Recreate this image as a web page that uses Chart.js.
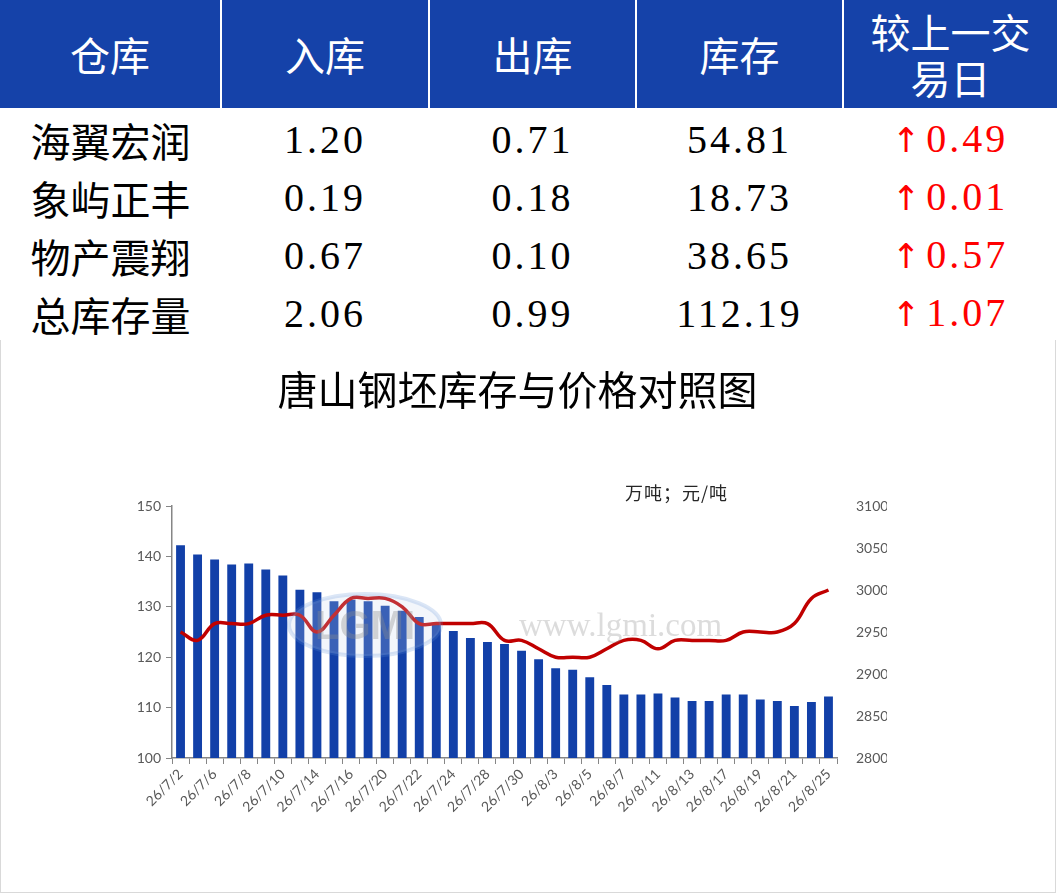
<!DOCTYPE html>
<html>
<head>
<meta charset="utf-8">
<script src="https://cdn.jsdelivr.net/npm/chart.js@4.4.1/dist/chart.umd.min.js"></script>
<style>
    body { margin: 0; background: #fff; width: 1057px; height: 895px; overflow: hidden; position: relative; }
    table { position: absolute; left: 0; top: 0; width: 1057px; border-collapse: collapse; table-layout: fixed; }
    th { background: #1542a9; color: #fff; height: 108px; font: 400 40px "Noto Sans CJK SC", sans-serif; line-height: 46px;
         border-right: 2px solid #fff; padding: 0; }
    th:last-child { border-right: none; }
    td { height: 58px; text-align: center; padding: 5px 0 0 0; box-sizing: border-box; }
    td.name { font: 400 40px "Noto Sans CJK SC", sans-serif; line-height: 50px; }
    td.num { font: 400 40px "Liberation Serif", serif; letter-spacing: 3px; line-height: 50px; }
    td.chg { color: #ff0000; }
    .arrow { font-family: "DejaVu Sans", sans-serif; font-size: 34px; margin-right: 3px; }
    #box { position: absolute; left: 0; top: 340px; width: 1054px; height: 552px; border: 1px solid #d9d9d9; border-top: none; }
    #title { position: absolute; left: 0; top: 359px; width: 1035px; text-align: center; font: 400 40px "Noto Sans CJK SC", sans-serif; color: #000; }
    #unit { position: absolute; left: 625px; top: 479px; font: 400 18px "Noto Sans CJK SC", sans-serif; color: #262626; letter-spacing: 1px; }
</style>
</head>
<body>

<table>
    <thead>
        <tr>
            <th style="width:220px">仓库</th>
            <th style="width:206px">入库</th>
            <th style="width:205px">出库</th>
            <th style="width:205px">库存</th>
            <th>较上一交<br>易日</th>
        </tr>
    </thead>
    <tbody id="tableData"></tbody>
</table>

<div id="box"><canvas id="mixChart" width="1054" height="552"></canvas></div>
<div id="title">唐山钢坯库存与价格对照图</div>
<div id="unit">万吨；元/吨</div>

<script>
// table
const warehouses = ["海翼宏润", "象屿正丰", "物产震翔", "总库存量"];
const inbound = [1.20, 0.19, 0.67, 2.06];
const outbound = [0.71, 0.18, 0.10, 0.99];
const stockNow = [54.81, 18.73, 38.65, 112.19];
const change = [0.49, 0.01, 0.57, 1.07];

// chart
const dates = [
    "26/7/2", "26/7/3", "26/7/6", "26/7/7", "26/7/8", "26/7/9", "26/7/10", "26/7/13", "26/7/14", "26/7/15",
    "26/7/16", "26/7/17", "26/7/20", "26/7/21", "26/7/22", "26/7/23", "26/7/24", "26/7/27", "26/7/28", "26/7/29",
    "26/7/30", "26/7/31", "26/8/3", "26/8/4", "26/8/5", "26/8/6", "26/8/7", "26/8/10", "26/8/11", "26/8/12",
    "26/8/13", "26/8/14", "26/8/17", "26/8/18", "26/8/19", "26/8/20", "26/8/21", "26/8/24", "26/8/25"
];
const stock = [
    142.2, 140.4, 139.4, 138.4, 138.6, 137.4, 136.2, 133.4, 132.9, 131.1,
    131.4, 131.1, 130.2, 129.2, 128.0, 126.8, 125.2, 123.8, 123.0, 122.6,
    121.3, 119.6, 117.8, 117.5, 116.0, 114.5, 112.6, 112.6, 112.8, 112.0,
    111.3, 111.3, 112.6, 112.6, 111.6, 111.3, 110.3, 111.1, 112.2
];
const price = [
    2950, 2940, 2960, 2960, 2960, 2970, 2970, 2970, 2950, 2970,
    2990, 2990, 2990, 2980, 2960, 2960, 2960, 2960, 2960, 2940,
    2940, 2930, 2920, 2920, 2920, 2930, 2940, 2940, 2930, 2940,
    2940, 2940, 2940, 2950, 2950, 2950, 2960, 2990, 3000
];
const leftTicks = [100, 150, 10];
const rightTicks = [2800, 3100, 50];

function buildTable() {
    let rows = "";
    for (let i = 0; i < warehouses.length; i++) {
        rows += `
        <tr>
            <td class="name">${warehouses[i]}</td>
            <td class="num">${inbound[i].toFixed(2)}</td>
            <td class="num">${outbound[i].toFixed(2)}</td>
            <td class="num">${stockNow[i].toFixed(2)}</td>
            <td class="num chg"><span class="arrow">↑</span>${change[i].toFixed(2)}</td>
        </tr>`;
    }
    document.getElementById("tableData").innerHTML = rows;
}

// faint site watermark over the plot
const watermark = {
    id: "watermark",
    afterDatasetsDraw(chart) {
        const ctx = chart.ctx;
        ctx.save();
        ctx.globalAlpha = 0.22;
        ctx.fillStyle = "#c9d8ee";
        ctx.strokeStyle = "#5b8fd6";
        ctx.lineWidth = 4;
        ctx.beginPath();
        ctx.ellipse(364, 285, 76, 31, 0, 0, Math.PI * 2);
        ctx.fill();
        ctx.stroke();
        ctx.globalAlpha = 0.35;
        ctx.fillStyle = "#8c8c8c";
        ctx.font = "bold 40px 'Liberation Sans'";
        ctx.textAlign = "center";
        ctx.textBaseline = "middle";
        ctx.fillText("LGMI", 364, 288);
        ctx.fillStyle = "#9a9a9a";
        ctx.font = "33px 'Liberation Serif'";
        ctx.textAlign = "left";
        ctx.fillText("www.lgmi.com", 518, 287);
        ctx.restore();
    }
};

function drawChart() {
    const tickFont = { family: "Lato", size: 14 };
    new Chart(document.getElementById("mixChart"), {
        data: {
            labels: dates,
            datasets: [{
                type: "line",
                data: price,
                yAxisID: "y1",
                borderColor: "#c00000",
                borderWidth: 3.5,
                tension: 0.4,
                pointRadius: 0,
                order: 0
            }, {
                type: "bar",
                data: stock,
                yAxisID: "y",
                backgroundColor: "#1240a8",
                barPercentage: 0.52,
                categoryPercentage: 1,
                order: 1
            }]
        },
        options: {
            responsive: false,
            animation: false,
            layout: { padding: { left: 121, right: 168, top: 166, bottom: 54 } },
            plugins: { legend: { display: false }, tooltip: { enabled: false } },
            scales: {
                x: {
                    grid: { offset: true, drawOnChartArea: false, color: "#868686", tickLength: 6 },
                    border: { color: "#868686", width: 1.5 },
                    ticks: {
                        autoSkip: false, maxRotation: 45, minRotation: 45, color: "#595959", font: tickFont, padding: 2,
                        callback: (v, i) => (i % 2 === 0 ? dates[i] : "")
                    },
                    afterFit: s => { s.height = 80; }
                },
                y: {
                    position: "left",
                    min: leftTicks[0], max: leftTicks[1],
                    ticks: { stepSize: leftTicks[2], color: "#595959", font: tickFont, padding: 5, callback: v => String(v) },
                    grid: { drawOnChartArea: false, color: "#868686", tickLength: 6 },
                    border: { color: "#868686", width: 1.5 },
                    afterFit: s => { s.width = 50; }
                },
                y1: {
                    position: "right",
                    min: rightTicks[0], max: rightTicks[1],
                    ticks: { stepSize: rightTicks[2], color: "#595959", font: tickFont, padding: 11, callback: v => String(v) },
                    grid: { display: false },
                    border: { display: false },
                    afterFit: s => { s.width = 50; }
                }
            }
        },
        plugins: [watermark]
    });
}

window.onload = function () {
    buildTable();
    drawChart();
};
</script>
</body>
</html>
